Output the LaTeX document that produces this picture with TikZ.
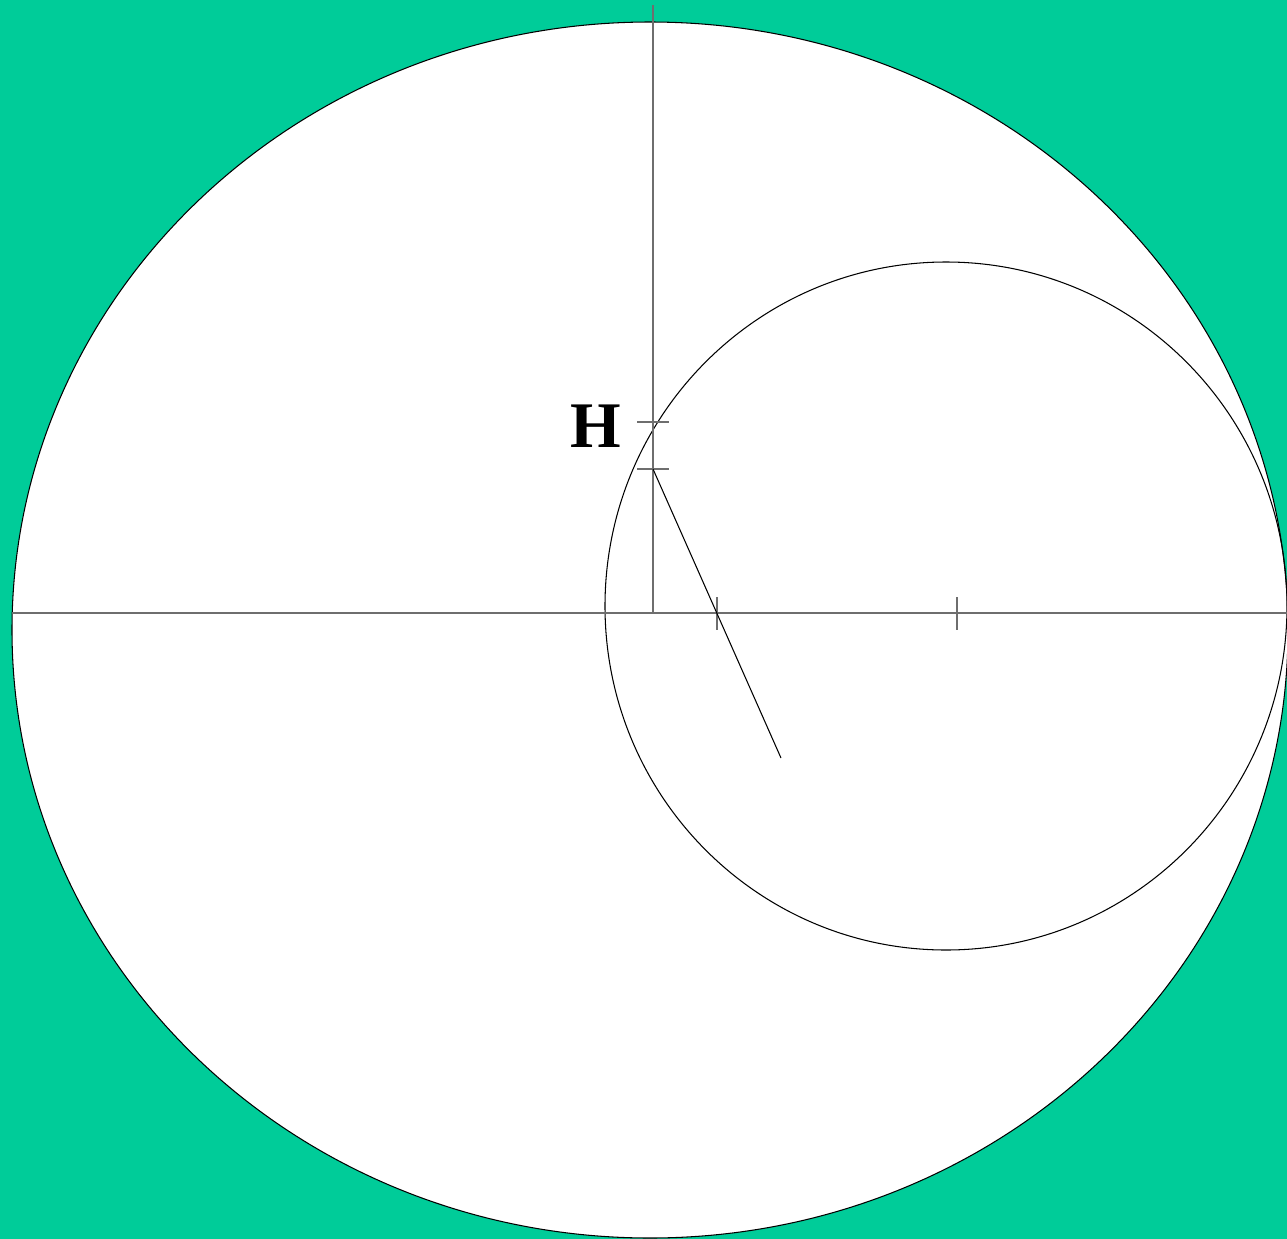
\documentclass[tikz,border=0pt]{standalone}
\usepackage{fontspec}
\setmainfont{Liberation Serif}
\usepackage{tikz}
\usetikzlibrary{calc}
\usepackage{xcolor}
\definecolor{mygreen}{RGB}{0,204,153}
\definecolor{axisgray}{RGB}{110,110,110}
\tikzset{
  axisline/.style={draw=axisgray,line width=0.4pt},
  tickmark/.style={draw=axisgray,line width=0.3pt},
  curve/.style={draw=black,line width=0.3pt},
}

\begin{document}
\begin{tikzpicture}[x=0.01cm,y=-0.01cm,
    label/.style={font=\fontsize{18.5}{20}\selectfont\bfseries,inner sep=0pt},
  ]
    % background
    \fill[mygreen] (0,0) rectangle (1287,1239);
    \useasboundingbox (0,0) rectangle (1287,1239);
    % outer ellipse
    \filldraw[fill=white,curve] (650,630) ellipse [x radius=638,y radius=608];
    % inner circle
    \draw[curve] (946,606) ellipse [x radius=341,y radius=344];
    % axes
    \coordinate (O) at (653,613);
    \coordinate (xl) at (12,613);
    \coordinate (xr) at (1287,613);
    \coordinate (yt) at (653,5);
    \draw[axisline] (xl) -- (xr);
    \draw[axisline] (O) -- (yt);
    % ticks on the vertical axis
    \coordinate (H1) at (653,422);
    \coordinate (H2) at (653,469);
    \foreach \p in {H1,H2}
      \draw[tickmark] ($(\p)+(-16,0)$) -- ($(\p)+(16,0)$);
    % ticks on the horizontal axis
    \coordinate (T1) at (717,613);
    \coordinate (T2) at (957,613);
    \foreach \p in {T1,T2}
      \draw[tickmark] ($(\p)+(0,-16)$) -- ($(\p)+(0,17)$);
    % slanted line
    \coordinate (P) at (781,758);
    \draw[curve] (H2) -- (P);
    % label
    \node[label] (hlab) at (596,426) {H};
  \end{tikzpicture}
\end{document}
